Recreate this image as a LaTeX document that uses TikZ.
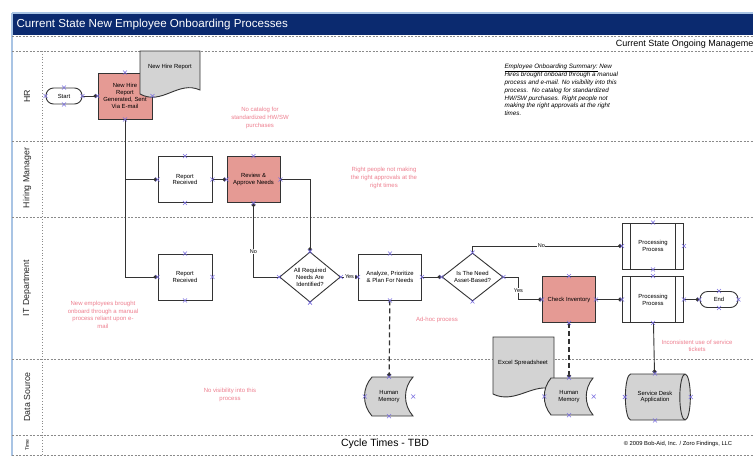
\documentclass[tikz,border=0pt]{standalone}
\usepackage{fontspec}
\setmainfont{Liberation Sans}
\usetikzlibrary{arrows.meta,shapes.geometric}

\definecolor{navy}{HTML}{0B2A6F}
\definecolor{pinkbox}{HTML}{E59A94}
\definecolor{grayfill}{HTML}{D3D3D3}
\definecolor{notepink}{HTML}{EE7F8F}
\definecolor{cpmark}{HTML}{7A6FE0}
\definecolor{lanegray}{HTML}{8A8A8A}
\definecolor{edgeblue}{HTML}{A9C4E4}

\begin{document}
\begin{tikzpicture}[x=1pt,y=-1pt,
  txt/.style={font=\fontsize{5.9}{6.9}\selectfont,align=center},
  box/.style={txt,draw=black!80,line width=.9pt,minimum width=54pt,minimum height=46pt,inner sep=1pt},
  hot/.style={box,fill=pinkbox},
  proc/.style={box,minimum width=61pt,path picture={
    \draw[black!80,line width=.8pt] ([xshift=8pt]path picture bounding box.north west) -- ([xshift=8pt]path picture bounding box.south west);
    \draw[black!80,line width=.8pt] ([xshift=-8pt]path picture bounding box.north east) -- ([xshift=-8pt]path picture bounding box.south east);}},
  term/.style={txt,draw=black!80,line width=.9pt,rounded corners=7.5pt,minimum width=36pt,minimum height=16pt,inner sep=0pt},
  dec/.style={txt,diamond,draw=black!80,line width=.9pt,minimum width=61pt,minimum height=44pt,inner sep=0pt},
  cyl/.style={txt,cylinder,draw=black!80,line width=.9pt,fill=grayfill,minimum width=46pt,minimum height=65pt,aspect=.85,inner sep=0pt},
  symbol/.style={draw=black!80,line width=.9pt,fill=grayfill},
  flow/.style={draw=black!80,line width=.9pt,-{Circle[length=4pt]}},
  dataflow/.style={flow,line width=1.2pt,dash pattern=on 5pt off 3pt},
  lbl/.style={font=\fontsize{5.5}{6}\selectfont,fill=white,inner sep=.6pt},
  note/.style={font=\fontsize{6}{7.6}\selectfont,text=notepink,align=center},
  lanesep/.style={lanegray,line width=.6pt,dash pattern=on 2pt off 1.5pt},
  lanelbl/.style={font=\fontsize{8.8}{10}\selectfont,text=black!85},
  cmark/.style={cpmark,line width=.6pt}]
\clip (0,0) rectangle (753,456);
\fill[white] (0,0) rectangle (753,456);

% frame and title
\fill[navy] (12,14) rectangle (753,35);
\draw[edgeblue,line width=1.2pt] (12,13) -- (753,13);
\draw[edgeblue,line width=1.2pt] (12,13) -- (12,456);
\node[anchor=west,text=white,font=\fontsize{11.6}{13}\selectfont] (title) at (13,24) {Current State New Employee Onboarding Processes};
\node[anchor=east,font=\fontsize{9}{10}\selectfont] (sub) at (757,44) {Current State Ongoing Manageme};

% lanes
\foreach \y in {36,51,141,217,359,435,455}
  \draw[lanesep] (12,\y) -- (753,\y);
\draw[lanegray,line width=.8pt,dash pattern=on .8pt off 2pt] (42,51) -- (42,456);
\foreach \y/\t in {96/HR,178/Hiring Manager,288/IT Department,397/Data Source}
  \node[rotate=90,lanelbl] at (27,\y) {\t};
\node[rotate=90,font=\fontsize{5}{5}\selectfont] at (27,445) {Time};
\node[font=\fontsize{10.5}{12}\selectfont] (cycle) at (385,444) {Cycle Times - TBD};
\node[font=\fontsize{5.8}{6}\selectfont] (copy) at (678,444) {© 2009 Bob-Aid, Inc. / Zoro Findings, LLC};

% HR
\node[term] (start) at (64,96) {Start};
\node[hot] (nhr) at (125,96) {New Hire\\Report\\Generated, Sent\\Via E-mail};
\draw[symbol] (140,51) -- (200,51) -- (200,90) .. controls (178,80) and (162,106) .. (140,94) -- cycle;
\node[txt] (nhrdoc) at (170,67) {New Hire Report};
\node[font=\fontsize{6.3}{7.7}\selectfont\itshape,anchor=north west,align=left] (summary) at (501,60)
  {\underline{Employee Onboarding Summary:} New\\Hires brought onboard through a manual\\process and e-mail. No visibility into this\\process.\ \ No catalog for standardized\\HW/SW purchases. Right people not\\making the right approvals at the right\\times.};

% Hiring Manager
\node[box] (rrhm) at (185,179.5) {Report\\Received};
\node[hot,minimum width=53pt] (rap) at (253.5,179.5) {Review \&\\Approve Needs};

% IT Department
\node[box] (rrit) at (185,277) {Report\\Received};
\node[dec] (reqd) at (310,277) {All Required\\Needs Are\\Identified?};
\node[box,minimum width=63pt] (anl) at (390,277) {Analyze, Prioritize\\\& Plan For Needs};
\node[dec] (asset) at (472.5,277) {Is The Need\\Asset-Based?};
\node[hot,minimum width=53pt] (ci) at (569,299.5) {Check Inventory};
\node[proc] (pp1) at (653,246) {Processing\\Process};
\node[proc] (pp2) at (653,299.5) {Processing\\Process};
\node[term,minimum width=38pt] (endn) at (719,299.5) {End};

% Data Source
\draw[symbol] (372,377) -- (413,377) .. controls (403,388) and (403,405) .. (413,416) -- (372,416) .. controls (362,405) and (362,388) .. cycle;
\node[txt,minimum width=48pt,minimum height=39pt] (hm1) at (389,396.5) {Human\\Memory};
\draw[symbol] (493,337) -- (554,337) -- (554,390) .. controls (535,381) and (515,405) .. (493,394) -- cycle;
\node[txt] (excel) at (523,363) {Excel Spreadsheet};
\draw[symbol] (551,378) -- (593,378) .. controls (584,389) and (584,404) .. (593,415) -- (551,415) .. controls (542,404) and (542,389) .. cycle;
\node[txt,minimum width=49pt,minimum height=37pt] (hm2) at (569,396.5) {Human\\Memory};
\node[cyl] (sda) at (655,397) {Service Desk\\Application};

% notes
\node[note] at (260,118) {No catalog for\\standardized HW/SW\\purchases};
\node[note] at (384,178) {Right people not making\\the right approvals at the\\right times};
\node[note] at (103,315) {New employees brought\\onboard through a manual\\process reliant upon e-\\mail};
\node[note] at (437,320) {Ad-hoc process};
\node[note] at (697,346) {Inconsistent use of service\\tickets};
\node[note] at (230,395) {No visibility into this\\process};

% connectors
\draw[flow] (start) -- (nhr);
\draw[flow] (nhr.south) |- (rrhm.west);
\draw[flow] (nhr.south) |- (rrit.west);
\draw[flow] (rrhm) -- (rap);
\draw[flow] (rap.east) -| (reqd.north);
\draw[flow] (reqd.west) -| node[lbl,pos=.67] {No} (rap.south);
\draw[flow] (reqd) -- node[lbl] {Yes} (anl);
\draw[flow] (anl) -- (asset);
\draw[flow] (asset.north) |- node[lbl,pos=.73] {No} (pp1.west);
\draw[flow] (asset.east) -- ++(15,0) |- node[lbl,pos=.3] {Yes} (ci.west);
\draw[flow] (ci) -- (pp2);
\draw[flow] (pp2) -- (endn);
\draw[flow] (pp2) -- (sda);
\draw[dataflow] (anl) -- (hm1);
\draw[dataflow] (ci) -- (hm2);

% connection points
\foreach \n in {start,nhr,rrhm,rap,rrit,reqd,anl,asset,ci,pp1,pp2,endn,sda,hm1,hm2}
  \foreach \a in {north,south,east,west}
    \draw[cmark] (\n.\a) ++(-2,-2) -- ++(4,4) ++(0,-4) -- ++(-4,4);
\end{tikzpicture}
\end{document}
